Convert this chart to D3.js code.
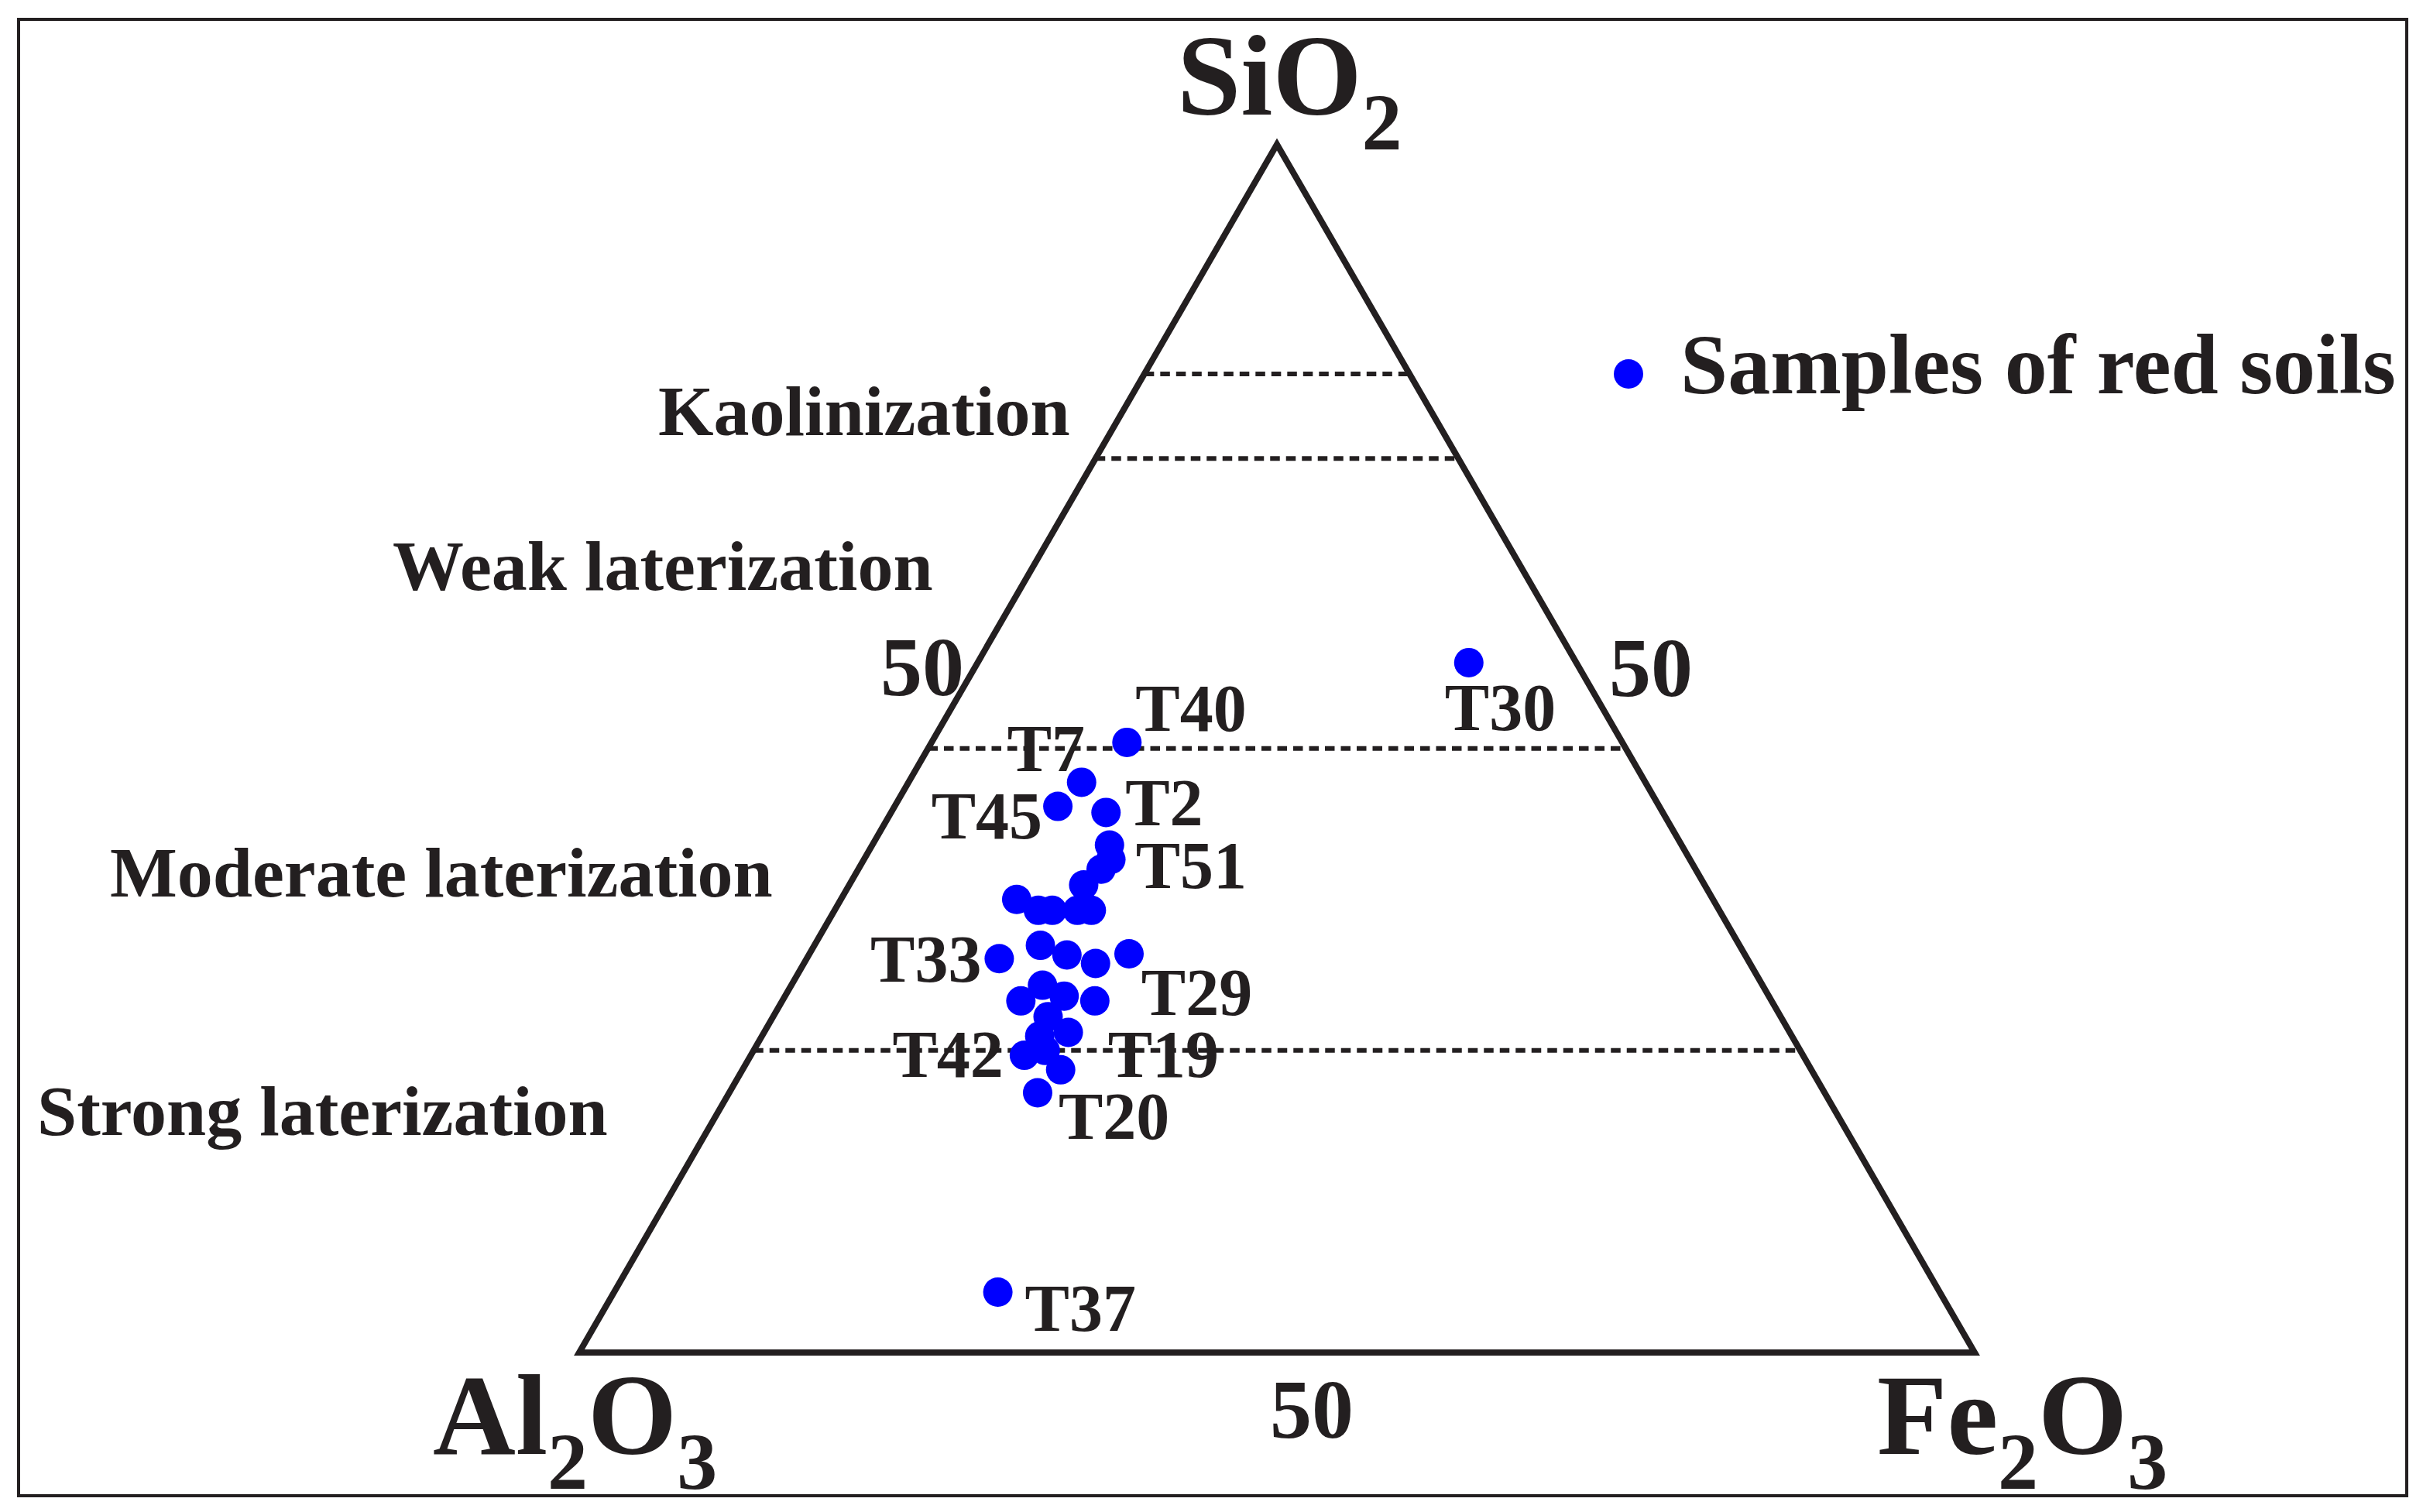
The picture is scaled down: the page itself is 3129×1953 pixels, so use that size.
<!DOCTYPE html>
<html>
<head>
<meta charset="utf-8">
<script src="https://cdn.jsdelivr.net/npm/d3@7"></script>
<style>
  html, body { margin: 0; padding: 0; background: #fff; }
  svg { display: block; }
  text { font-family: "Liberation Serif", "Times New Roman", serif; font-weight: bold; fill: #231f20; }
</style>
</head>
<body>
<div id="chart"></div>
<script>
//
// SiO2 - Al2O3 - Fe2O3 ternary diagram (laterization degree)
//
// sample composition, wt% normalised to 100
const sampleIds = ['T40', 'T7', 'T45', 'T2', 'T51', '', '', '', '', '', '', '', '',
  'T33', '', '', '', '', '', '', '', 'T29', '', '', '', 'T42', '', 'T19', 'T20', 'T30', 'T37']
const sio2 = [50.5, 47.2, 45.2, 44.7, 42.0, 40.8, 40.0, 38.7, 37.5, 36.6, 36.6, 36.6, 36.6,
  32.6, 33.7, 32.9, 32.2, 33.0, 30.4, 29.1, 29.5, 29.1, 27.8, 26.5, 26.2, 24.6, 25.0, 23.4, 21.5, 57.1, 5.0]
const fe2o3 = [14.0, 12.4, 11.7, 15.4, 17.0, 17.7, 17.4, 16.8, 12.6, 14.6, 15.6, 17.4, 18.4,
  13.8, 16.2, 18.5, 20.9, 22.9, 18.0, 17.1, 20.0, 22.4, 19.7, 21.8, 19.9, 19.6, 20.9, 22.8, 22.1, 35.2, 27.5]
const al2o3 = sio2.map((s, i) => +(100 - s - fe2o3[i]).toFixed(1))

// SiO2 level of the dashed boundaries
const boundaries = [81, 74, 50, 25]
const zoneNames = ['Kaolinization', 'Weak laterization', 'Moderate laterization', 'Strong laterization']
const tickLabel = '50'
const legendLabel = 'Samples of red soils'

const width = 3129
const height = 1953
const ink = '#231f20'
const dotColour = '#0000ff'

const svg = d3.select('#chart')
  .append('svg')
  .attr('width', width)
  .attr('height', height)

// frame
svg.append('rect')
  .attr('x', 24).attr('y', 25)
  .attr('width', 3084).attr('height', 1907)
  .attr('fill', 'none')
  .attr('stroke', ink)
  .attr('stroke-width', 4)

//
// ternary scales: y from SiO2, x from Fe2O3 + SiO2/2
//
const left = 748
const right = 2550
const base = 1747
const side = right - left
const apex = base - side * Math.sqrt(3) / 2
const y = d3.scaleLinear().domain([0, 100]).range([base, apex])
const x = d3.scaleLinear().domain([0, 100]).range([left, right])
const px = (s, f) => x(f + s / 2)
const py = s => y(s)

const g = svg.append('g')

// triangle outline
const corners = [[100, 0], [0, 0], [0, 100]] // [SiO2, Fe2O3]
g.append('path')
  .attr('d', d3.line()(corners.map(c => [px(c[0], c[1]), py(c[0])])) + 'Z')
  .attr('fill', 'none')
  .attr('stroke', ink)
  .attr('stroke-width', 8)
  .attr('stroke-linejoin', 'miter')

// dashed boundaries, edge to edge at constant SiO2
g.selectAll('.boundary')
  .data(boundaries)
  .enter().append('line')
  .attr('class', 'boundary')
  .attr('x1', d => px(d, 0))
  .attr('x2', d => px(d, 100 - d))
  .attr('y1', d => py(d))
  .attr('y2', d => py(d))
  .attr('stroke', ink)
  .attr('stroke-width', 6)
  .attr('stroke-dasharray', '12.5,8')

// zone names
const zonePos = [[850, 562], [507, 762], [142, 1158], [48, 1466]]
g.selectAll('.zone')
  .data(zoneNames)
  .enter().append('text')
  .attr('class', 'zone')
  .attr('x', (d, i) => zonePos[i][0])
  .attr('y', (d, i) => zonePos[i][1])
  .style('font-size', '92px')
  .text(d => d)

// 50 ticks on the three sides
const tickPos = [[1137, 898], [2078, 899], [1640, 1857]]
g.selectAll('.tick50')
  .data(tickPos)
  .enter().append('text')
  .attr('class', 'tick50')
  .attr('x', d => d[0])
  .attr('y', d => d[1])
  .style('font-size', '108px')
  .text(tickLabel)

// vertex labels with subscripts
function formula (parts, xPos, yPos) {
  const t = g.append('text')
    .attr('x', xPos).attr('y', yPos)
    .style('font-size', '148px')
  parts.forEach(function (p, i) {
    const isSub = /^\d$/.test(p)
    t.append('tspan')
      .attr('dy', isSub ? 45 : (i > 0 ? -45 : 0))
      .style('font-size', isSub ? '104px' : '148px')
      .text(p)
  })
}
formula(['SiO', '2'], 1520, 148)
formula(['Al', '2', 'O', '3'], 559, 1878)
formula(['Fe', '2', 'O', '3'], 2424, 1878)

//
// samples
//
const samples = sampleIds.map((id, i) => ({ id: id, s: sio2[i], a: al2o3[i], f: fe2o3[i] }))
g.selectAll('.sample')
  .data(samples)
  .enter().append('circle')
  .attr('class', 'sample')
  .attr('cx', d => px(d.s, d.f))
  .attr('cy', d => py(d.s))
  .attr('r', 19)
  .attr('fill', dotColour)

// label placement relative to the dot
const labelOffset = {
  T40: [11, -15, 'start'],
  T7: [-96, -14, 'start'],
  T45: [-20, 41, 'end'],
  T2: [25, 17, 'start'],
  T51: [34, 55, 'start'],
  T33: [-23, 30, 'end'],
  T29: [60, 18, 'start'],
  T42: [-27, 28, 'end'],
  T19: [61, 9, 'start'],
  T20: [27, 60, 'start'],
  T30: [-31, 87, 'start'],
  T37: [35, 50, 'start']
}
g.selectAll('.label')
  .data(samples.filter(d => d.id))
  .enter().append('text')
  .attr('class', 'label')
  .attr('x', d => px(d.s, d.f) + labelOffset[d.id][0])
  .attr('y', d => py(d.s) + labelOffset[d.id][1])
  .attr('text-anchor', d => labelOffset[d.id][2])
  .style('font-size', '86px')
  .text(d => d.id)

// legend
const legend = svg.append('g').attr('transform', 'translate(2103,483)')
legend.append('circle').attr('r', 19).attr('fill', dotColour)
legend.append('text')
  .attr('x', 67).attr('y', 25)
  .style('font-size', '110px')
  .text(legendLabel)
</script>
</body>
</html>
